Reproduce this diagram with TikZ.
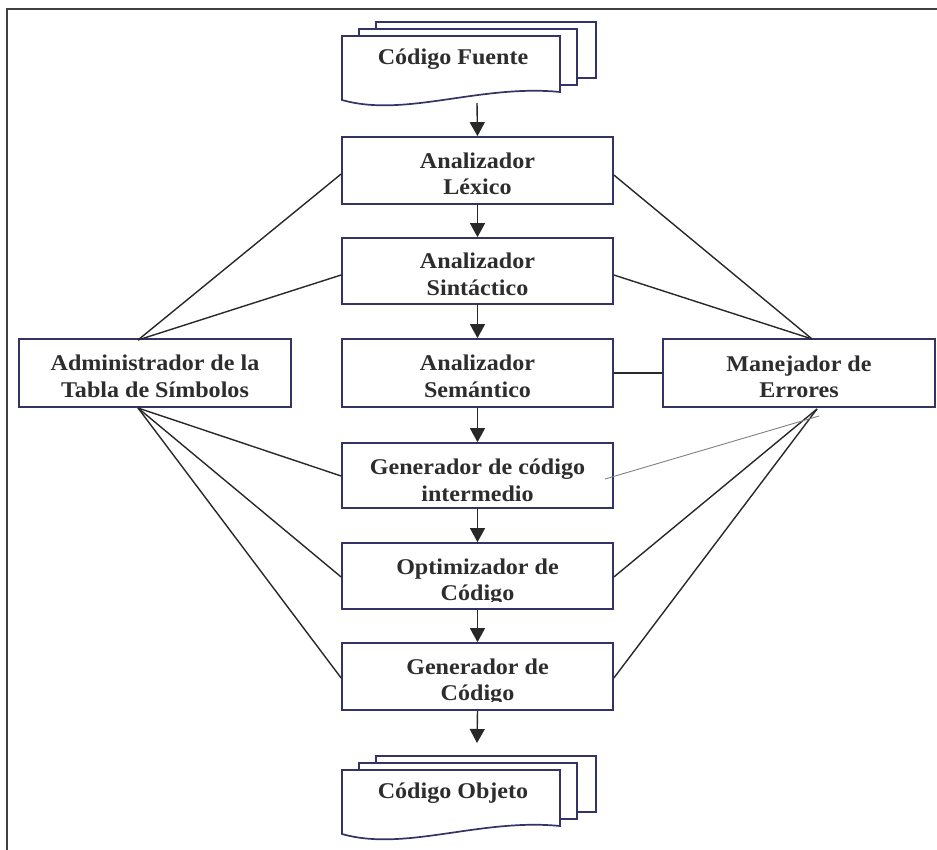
\documentclass[tikz,border=0pt]{standalone}
\usepackage{fontspec}
\setmainfont{Liberation Serif}[FakeStretch=1.07]
\usetikzlibrary{arrows.meta}
\definecolor{boxc}{RGB}{51,51,102}
\definecolor{linec}{RGB}{40,40,40}
\definecolor{txtc}{RGB}{45,45,45}
\begin{document}
\begin{tikzpicture}[x=1pt,y=-1pt,
  stepbox/.style={draw=boxc, line width=1.7pt, fill=white, rectangle, inner sep=0pt},
  txt/.style={anchor=base, inner sep=0pt, text=txtc, font=\fontsize{22.5}{26}\selectfont\bfseries},
  page/.style={draw=boxc, line width=1.7pt, fill=white, line join=miter},
  link/.style={draw=linec, line width=1.4pt},
  flow/.style={draw=linec, line width=1.4pt, -{Triangle[length=14pt,width=15pt]}},
  faint/.style={draw=gray, line width=0.9pt}]
\useasboundingbox (0,0) rectangle (937,850);
% frame
\draw[black!75, line width=2pt] (7,851) -- (7,9) -- (938,9);

% top document
\path[page] (376,22) rectangle (596,78);
\path[page] (359,29) rectangle (577,85);
\path[page] (342,36) -- (560,36) -- (560,92) .. controls (480,84) and (405,118) .. (342,100) -- cycle;
\node[txt] (src) at (453,65) {Código Fuente};
\coordinate (srcB) at (477,103);

% bottom document
\path[page] (376,756) rectangle (596,812);
\path[page] (359,763) rectangle (577,819);
\path[page] (342,770) -- (560,770) -- (560,826) .. controls (480,818) and (405,852) .. (342,834) -- cycle;
\node[txt] (obj) at (453,798) {Código Objeto};
\coordinate (objT) at (477,743);

% main boxes
\node[stepbox, minimum width=271pt, minimum height=67pt] (lex) at (477.5,170.5) {};
\node[txt] (lexA) at (477.5,168.5) {Analizador};
\node[txt] (lexB) at (477.5,195) {Léxico};

\node[stepbox, minimum width=271pt, minimum height=66pt] (sin) at (477.5,271) {};
\node[txt] (sinA) at (477.5,269) {Analizador};
\node[txt] (sinB) at (477.5,296) {Sintáctico};

\node[stepbox, minimum width=271pt, minimum height=68pt] (sem) at (477.5,373) {};
\node[txt] (semA) at (477.5,370) {Analizador};
\node[txt] (semB) at (477.5,397) {Semántico};

\node[stepbox, minimum width=271pt, minimum height=65pt] (gci) at (477.5,475.5) {};
\node[txt] (gciA) at (477.5,474) {Generador de código};
\node[txt] (gciB) at (477.5,501) {intermedio};

\node[stepbox, minimum width=271pt, minimum height=66pt] (opt) at (477.5,576) {};
\node[txt] (optA) at (477.5,574) {Optimizador de};
\begin{scope}
\clip (342,543) rectangle (613,601);
\node[txt] (optB) at (477.5,600) {Código};
\end{scope}

\node[stepbox, minimum width=271pt, minimum height=67pt] (gen) at (477.5,676.5) {};
\node[txt] (genA) at (477.5,674) {Generador de};
\begin{scope}
\clip (342,643) rectangle (613,701);
\node[txt] (genB) at (477.5,700) {Código};
\end{scope}

% side boxes
\node[stepbox, minimum width=272pt, minimum height=68pt] (adm) at (155,373) {};
\node[txt] (admA) at (155,370) {Administrador de la};
\node[txt] (admB) at (155,397) {Tabla de Símbolos};

\node[stepbox, minimum width=272pt, minimum height=68pt] (man) at (799,373) {};
\node[txt] (manA) at (799,371) {Manejador de};
\node[txt] (manB) at (799,397) {Errores};

% flow arrows
\draw[flow] (srcB) -- (lex.north);
\draw[flow] (lex.south) -- (sin.north);
\draw[flow] (sin.south) -- (sem.north);
\draw[flow] (sem.south) -- (gci.north);
\draw[flow] (gci.south) -- (opt.north);
\draw[flow] (opt.south) -- (gen.north);
\draw[flow] (gen.south) -- (objT);

% connection points
\coordinate (admT) at (138,340);
\coordinate (admS) at (138,408);
\coordinate (manT) at (812,339);
\coordinate (manS) at (817,409);

\draw[link] (admT) -- (lex.west |- 0,174);
\draw[link] (admT) -- (sin.west |- 0,275);
\draw[link] (manT) -- (lex.east |- 0,175);
\draw[link] (manT) -- (sin.east |- 0,275);
\draw[link] (sem.east) -- (man.west);
\draw[link] (admS) -- (gci.west |- 0,476);
\draw[link] (admS) -- (opt.west |- 0,577);
\draw[link] (admS) -- (gen.west |- 0,678);
\draw[link] (manS) -- (opt.east |- 0,577);
\draw[link] (manS) -- (gen.east |- 0,678);
\coordinate (gciIn) at (605,479);
\coordinate (manX) at (819,416);
\draw[faint] (gciIn) -- (manX);
\end{tikzpicture}
\end{document}
